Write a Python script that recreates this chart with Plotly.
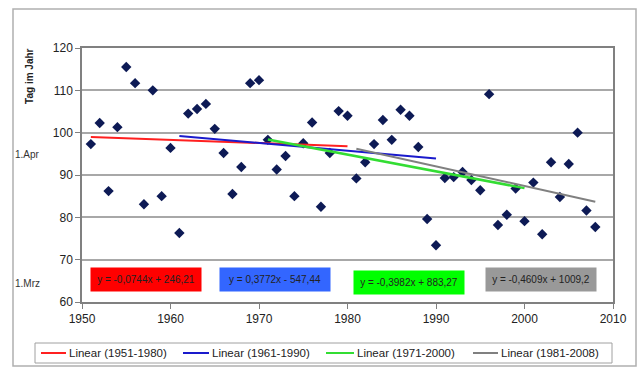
import plotly.graph_objects as go

years = list(range(1951, 2009))
day_of_year = [
    97.3, 102.3, 86.2, 101.3, 115.5, 111.7, 83.1, 110.0, 85.0, 96.4,
    76.3, 104.5, 105.6, 106.8, 100.9, 95.2, 85.5, 91.9, 111.7, 112.4,
    98.3, 91.3, 94.5, 85.0, 97.5, 102.4, 82.5, 95.2, 105.1, 104.0,
    89.2, 93.0, 97.3, 103.0, 98.3, 105.4, 104.0, 96.6, 79.6, 73.4,
    89.3, 89.5, 90.7, 88.8, 86.4, 109.1, 78.2, 80.6, 86.8, 79.1,
    88.2, 76.0, 93.0, 84.8, 92.6, 100.0, 81.6, 77.7,
]

trend_names = ["Linear (1951-1980)", "Linear (1961-1990)", "Linear (1971-2000)", "Linear (1981-2008)"]
trend_start_year = [1951, 1961, 1971, 1981]
trend_end_year = [1980, 1990, 2000, 2008]
trend_start_val = [99.0, 99.2, 98.4, 96.2]
trend_end_val = [96.8, 93.9, 86.9, 83.7]
trend_colors = ["#ff2020", "#1a1acc", "#33dd33", "#808080"]
trend_widths = [2, 2, 2.5, 2]

eq_texts = ["y = -0,0744x + 246,21", "y = 0,3772x - 547,44", "y = -0,3982x + 883,27", "y = -0,4609x + 1009,2"]
eq_bg = ["#ff0000", "#3366ff", "#00ff00", "#999999"]
eq_x = [1957.2, 1971.8, 1986.9, 2001.9]
eq_y = [65.2, 65.2, 64.5, 65.2]

# plot-area geometry in pixels (for converting legend layout to paper coords)
PL, PR, PT, PB = 82, 613, 48, 302
def px_x(p):
    return (p - PL) / (PR - PL)
def px_y(p):
    return (PB - p) / (PB - PT)

# custom legend layout (pixel positions of line start/end)
legend_line_px = [(41, 66), (183, 209), (326, 354), (473, 498)]
legend_y_px = 353

fig = go.Figure()
fig.add_trace(go.Scatter(
    x=years, y=day_of_year, mode="markers",
    marker=dict(symbol="diamond", size=8, color="#0d1a55"),
    showlegend=False,
))
for i in range(4):
    fig.add_trace(go.Scatter(
        x=[trend_start_year[i], trend_end_year[i]],
        y=[trend_start_val[i], trend_end_val[i]],
        mode="lines", name=trend_names[i], showlegend=False,
        line=dict(color=trend_colors[i], width=trend_widths[i]),
    ))

font_main = "Arial, Liberation Sans"
annotations = []
for i in range(4):
    annotations.append(dict(
        x=eq_x[i], y=eq_y[i], xref="x", yref="y", text=eq_texts[i],
        showarrow=False, bgcolor=eq_bg[i], width=106, height=19, borderpad=2,
        font=dict(family=font_main, size=10, color="#222222"),
    ))
annotations += [
    dict(x=-0.098, y=0.89, xref="paper", yref="paper", text="<b>Tag im Jahr</b>", textangle=-90,
         xanchor="center", yanchor="middle",
         showarrow=False, font=dict(family=font_main, size=10, color="#222222")),
    dict(x=-0.075, y=0.58, xref="paper", yref="paper", text="1.Apr", xanchor="right",
         showarrow=False, font=dict(family=font_main, size=10, color="#333333")),
    dict(x=-0.075, y=0.045, xref="paper", yref="paper", text="1.Mrz", xanchor="right",
         showarrow=False, font=dict(family=font_main, size=10, color="#333333")),
]

shapes = [
    dict(type="rect", xref="paper", yref="paper", x0=px_x(13), x1=px_x(636), y0=px_y(366), y1=px_y(9),
         line=dict(color="#b0b0b0", width=1.5)),
    dict(type="rect", xref="paper", yref="paper", x0=px_x(35), x1=px_x(612), y0=px_y(363), y1=px_y(343),
         line=dict(color="#a0a0a0", width=1), fillcolor="white"),
]
for i in range(4):
    x0, x1 = legend_line_px[i]
    shapes.append(dict(type="line", xref="paper", yref="paper", x0=px_x(x0), x1=px_x(x1),
                       y0=px_y(legend_y_px), y1=px_y(legend_y_px),
                       line=dict(color=trend_colors[i], width=2)))
    annotations.append(dict(x=px_x(x1 + 1), y=px_y(legend_y_px), xref="paper", yref="paper",
                            text=trend_names[i], xanchor="left", yanchor="middle", showarrow=False,
                            font=dict(family=font_main, size=11.5, color="#222222")))

fig.update_layout(
    width=639, height=369,
    margin=dict(l=PL, r=639 - PR, t=PT, b=369 - PB),
    paper_bgcolor="white", plot_bgcolor="white",
    font=dict(family=font_main, size=12, color="#222222"),
    annotations=annotations,
    shapes=shapes,
    showlegend=False,
)
fig.update_xaxes(range=[1950, 2010], tickvals=[1950, 1960, 1970, 1980, 1990, 2000, 2010],
                 showgrid=False, showline=True, linecolor="#808080", linewidth=1.5, mirror=True,
                 ticks="outside", ticklen=5, tickcolor="#808080", zeroline=False)
fig.update_yaxes(range=[60, 120], tickvals=[60, 70, 80, 90, 100, 110, 120],
                 showgrid=True, gridcolor="#a8a8a8", gridwidth=1.5,
                 showline=True, linecolor="#808080", linewidth=1.5, mirror=True,
                 ticks="outside", ticklen=5, tickcolor="#808080", zeroline=False)

fig.write_html("out.html", config={"displayModeBar": False},
               post_script="document.body.style.margin='0px';")
